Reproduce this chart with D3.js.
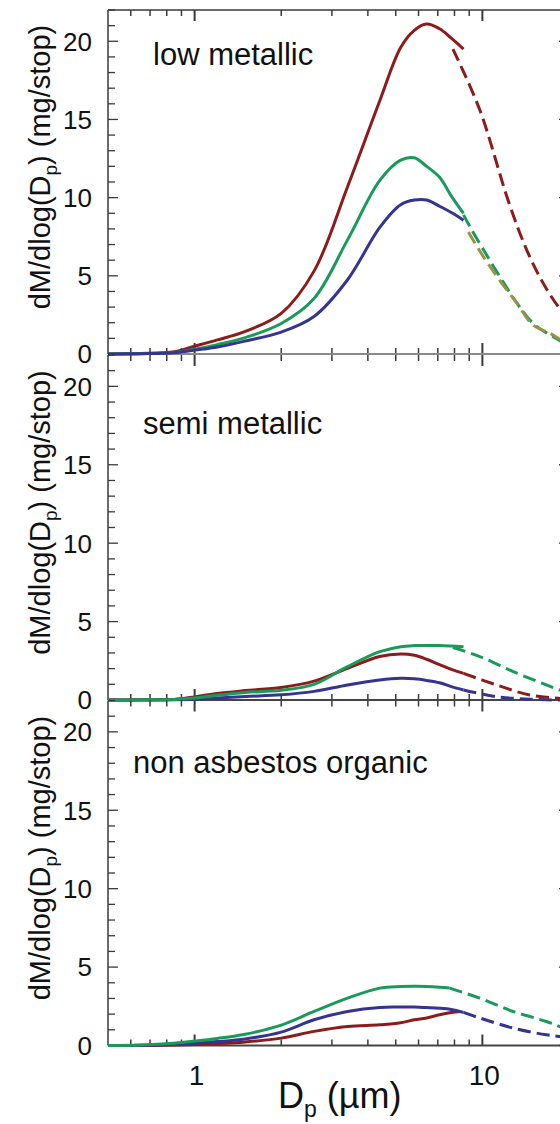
<!DOCTYPE html>
<html><head><meta charset="utf-8">
<script src="https://cdn.jsdelivr.net/npm/d3@7"></script>
<style>body{margin:0;background:#fff}svg{display:block;font-family:"Liberation Sans",Arial,sans-serif}</style>
</head><body><div id="chart"></div>
<script>
// ---- data ----
const panelNames = ["low metallic", "semi metallic", "non asbestos organic"];
const xTicks = [1, 10];
const yTicks = [0, 5, 10, 15, 20];
const solidD = [0.5, 0.65, 0.85, 1.0, 1.2, 1.5, 2.0, 2.6, 3.4, 4.4, 5.2, 5.8, 6.4, 7.1, 7.8, 8.6];

// panel 1: low metallic
const lowRed   = [0, 0.03, 0.15, 0.5, 0.9, 1.45, 2.6, 5.3, 10.7, 16.2, 19.6, 20.7, 21.1, 20.8, 20.2, 19.5];
const lowGreen = [0, 0.02, 0.1, 0.3, 0.6, 1.05, 1.95, 3.55, 7.3, 11.1, 12.4, 12.55, 12.0, 11.3, 10.1, 9.0];
const lowBlue  = [0, 0.02, 0.08, 0.25, 0.45, 0.83, 1.4, 2.4, 4.75, 8.1, 9.55, 9.85, 9.85, 9.45, 9.05, 8.56];
const lowRedDashD   = [7.9, 9.8, 12.3, 14.3, 16.3, 18.4, 20];
const lowRedDash    = [19.5, 15.6, 9.8, 6.6, 4.5, 3.0, 2.2];
const lowGreenDashD = [8.6, 9.06, 10.1, 11.5, 13.2, 15.0, 17.2, 18.4, 20];
const lowGreenDash  = [8.9, 8.13, 6.65, 4.94, 3.24, 1.96, 1.21, 0.9, 0.55];
const lowOliveDashD = [8.94, 10.1, 11.5, 13.2, 15.0, 17.2, 18.4, 20];
const lowOliveDash  = [7.8, 6.2, 4.7, 3.24, 1.85, 1.32, 1.0, 0.65];

// panel 2: semi metallic
const semiRed   = [0, 0.01, 0.04, 0.2, 0.42, 0.6, 0.8, 1.2, 2.02, 2.77, 2.93, 2.85, 2.6, 2.25, 1.95, 1.7];
const semiGreen = [0, 0.01, 0.03, 0.12, 0.3, 0.48, 0.62, 1.0, 2.13, 3.08, 3.4, 3.47, 3.48, 3.47, 3.44, 3.4];
const semiBlue  = [0, 0, 0.02, 0.05, 0.12, 0.22, 0.33, 0.55, 0.96, 1.28, 1.38, 1.35, 1.25, 1.1, 0.85, 0.64];
const semiRedDashD   = [8.6, 11.2, 14.6, 18.6, 20];
const semiRedDash    = [1.7, 0.96, 0.32, 0.1, 0.05];
const semiGreenDashD = [7.9, 9.8, 12.8, 16.7, 18.6, 20];
const semiGreenDash  = [3.35, 2.77, 1.81, 0.96, 0.64, 0.5];
const semiBlueDashD  = [8.6, 11.2, 14.6, 18.6, 20];
const semiBlueDash   = [0.64, 0.21, 0.05, 0.0, 0.0];

// panel 3: non asbestos organic
const naoGreenD = [0.5, 0.65, 0.85, 1.0, 1.2, 1.5, 2.0, 2.6, 3.4, 4.4, 5.2, 5.8, 6.4, 7.1, 7.7];
const naoGreen  = [0, 0.03, 0.15, 0.28, 0.45, 0.72, 1.3, 2.17, 3.02, 3.66, 3.76, 3.78, 3.77, 3.72, 3.66];
const naoBlue   = [0, 0.01, 0.08, 0.15, 0.25, 0.42, 0.85, 1.64, 2.17, 2.43, 2.45, 2.45, 2.42, 2.38, 2.3, 2.11];
const naoRedD   = [0.5, 0.65, 0.85, 1.0, 1.2, 1.5, 2.0, 2.6, 3.4, 4.4, 5.2, 5.8, 6.4, 7.1, 7.8, 8.4];
const naoRed    = [0, 0, 0.03, 0.06, 0.12, 0.23, 0.47, 0.9, 1.21, 1.32, 1.45, 1.64, 1.75, 1.96, 2.1, 2.17];
const naoGreenDashD = [7.7, 9.8, 12.8, 16.7, 18.6, 20];
const naoGreenDash  = [3.66, 3.02, 2.17, 1.53, 1.21, 1.0];
const naoBlueDashD  = [8.6, 9.8, 12.8, 16.7, 18.6, 20];
const naoBlueDash   = [2.11, 1.75, 1.11, 0.68, 0.57, 0.5];

// ---- styling ----
const RED = "#8c1c1c", GREEN = "#1a9a58", BLUE = "#35348f", OLIVE = "#9a9248";
const zip = (xs, ys) => xs.map((x, i) => [x, ys[i]]);

const panels = [
  { name: panelNames[0], top: 10, bottom: 354, label: [153, 65], bottomColor: "#8a8a8a",
    lines: [
      { d: zip(solidD, lowRed), c: RED }, { d: zip(solidD, lowGreen), c: GREEN }, { d: zip(solidD, lowBlue), c: BLUE },
      { d: zip(lowGreenDashD, lowGreenDash), c: GREEN, dash: true },
      { d: zip(lowOliveDashD, lowOliveDash), c: OLIVE, dash: true },
      { d: zip(lowRedDashD, lowRedDash), c: RED, dash: true } ] },
  { name: panelNames[1], top: 355, bottom: 700, label: [143, 434], bottomColor: "#444",
    lines: [
      { d: zip(solidD, semiBlue), c: BLUE }, { d: zip(solidD, semiRed), c: RED }, { d: zip(solidD, semiGreen), c: GREEN },
      { d: zip(semiBlueDashD, semiBlueDash), c: BLUE, dash: true },
      { d: zip(semiRedDashD, semiRedDash), c: RED, dash: true },
      { d: zip(semiGreenDashD, semiGreenDash), c: GREEN, dash: true } ] },
  { name: panelNames[2], top: 700.5, bottom: 1045.5, label: [133, 773], bottomColor: "#444",
    lines: [
      { d: zip(naoRedD, naoRed), c: RED }, { d: zip(solidD, naoBlue), c: BLUE }, { d: zip(naoGreenD, naoGreen), c: GREEN },
      { d: zip(naoBlueDashD, naoBlueDash), c: BLUE, dash: true },
      { d: zip(naoGreenDashD, naoGreenDash), c: GREEN, dash: true } ] }
];

const W = 560, H = 1124;
const svg = d3.select("#chart").append("svg").attr("width", W).attr("height", H);
const x = d3.scaleLog().domain([0.5, 20]).range([108, 569]);
const minorX = [0.6,0.7,0.8,0.9,2,3,4,5,6,7,8,9];

panels.forEach((p, pi) => {
  const y = d3.scaleLinear().domain([0, 22]).range([p.bottom, p.top]);
  const g = svg.append("g");
  const frame = "#3a3a3a";
  const yMinor = d3.range(0, 23, 1);
  yMinor.forEach(v => {
    const major = v % 5 === 0;
    const L = major ? 10 : 7;
    g.append("line").attr("x1", 108).attr("x2", 108 + L).attr("y1", y(v)).attr("y2", y(v)).attr("stroke", frame).attr("stroke-width", 1.3);
    g.append("line").attr("x1", 569).attr("x2", 569 - L).attr("y1", y(v)).attr("y2", y(v)).attr("stroke", frame).attr("stroke-width", 1.3);
  });
  minorX.concat(xTicks).forEach(v => {
    const major = xTicks.includes(v);
    const L = major ? 11 : 6;
    const w = major ? 2 : 1.5;
    g.append("line").attr("x1", x(v)).attr("x2", x(v)).attr("y1", p.top).attr("y2", p.top + L).attr("stroke", frame).attr("stroke-width", w);
    g.append("line").attr("x1", x(v)).attr("x2", x(v)).attr("y1", p.bottom).attr("y2", p.bottom - L).attr("stroke", frame).attr("stroke-width", w);
  });
  g.append("line").attr("x1", 108).attr("x2", 108).attr("y1", p.top).attr("y2", p.bottom).attr("stroke", frame).attr("stroke-width", 1.5);
  g.append("line").attr("x1", 569).attr("x2", 569).attr("y1", p.top).attr("y2", p.bottom).attr("stroke", frame).attr("stroke-width", 1.5);
  if (pi === 0) g.append("line").attr("x1", 108).attr("x2", 569).attr("y1", p.top).attr("y2", p.top).attr("stroke", frame).attr("stroke-width", 1.5);
  g.append("line").attr("x1", 108).attr("x2", 569).attr("y1", p.bottom).attr("y2", p.bottom).attr("stroke", p.bottomColor).attr("stroke-width", 2);

  yTicks.forEach(v => {
    g.append("text").attr("x", 92).attr("y", y(v)).attr("dy", "0.36em").attr("text-anchor", "end")
      .attr("font-size", 26).attr("fill", "#111").text(v);
  });
  const cy = (p.top + p.bottom) / 2 - 15;
  const t = g.append("text").attr("transform", `translate(50,${cy}) rotate(-90)`).attr("text-anchor", "middle")
    .attr("font-size", 29).attr("fill", "#111");
  t.append("tspan").text("dM/dlog(D");
  t.append("tspan").attr("font-size", 19).attr("dy", 7).text("p");
  t.append("tspan").attr("dy", -7).text(") (mg/stop)");
  g.append("text").attr("x", p.label[0]).attr("y", p.label[1]).attr("font-size", 31).attr("fill", "#111").text(p.name);

  const line = d3.line().x(d => x(d[0])).y(d => y(d[1])).curve(d3.curveCatmullRom.alpha(0.5));
  p.lines.forEach(l => {
    g.append("path").attr("d", line(l.d)).attr("fill", "none").attr("stroke", l.c)
      .attr("stroke-width", 3).attr("stroke-linecap", "butt")
      .attr("stroke-dasharray", l.dash ? "13,6" : null);
  });
});

xTicks.forEach(v => {
  svg.append("text").attr("x", x(v) + 2).attr("y", 1085).attr("text-anchor", "middle").attr("font-size", 28).attr("fill", "#111").text(v);
});
const xt = svg.append("text").attr("x", 278).attr("y", 1108).attr("font-size", 36).attr("fill", "#111");
xt.append("tspan").text("D");
xt.append("tspan").attr("font-size", 23).attr("dy", 9).text("p");
xt.append("tspan").attr("dy", -9).text(" (\u00B5m)");
</script></body></html>
